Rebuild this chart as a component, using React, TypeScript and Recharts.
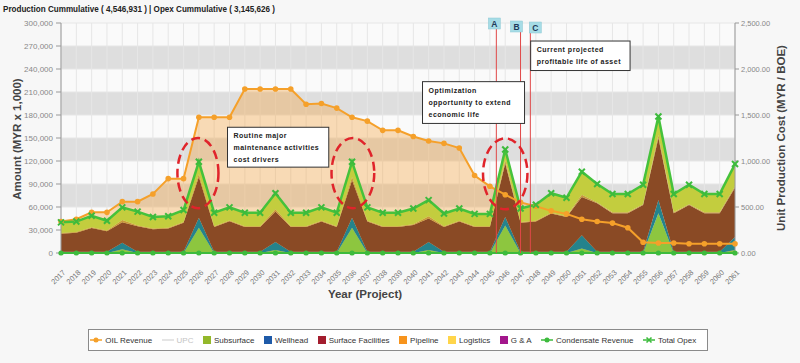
import React from 'react';
import {
  ComposedChart,
  Area,
  Line,
  XAxis,
  YAxis,
  CartesianGrid,
  ReferenceLine,
  ReferenceArea,
} from 'recharts';

const years = [
  2017, 2018, 2019, 2020, 2021, 2022, 2023, 2024, 2025, 2026,
  2027, 2028, 2029, 2030, 2031, 2032, 2033, 2034, 2035, 2036,
  2037, 2038, 2039, 2040, 2041, 2042, 2043, 2044, 2045, 2046,
  2047, 2048, 2049, 2050, 2051, 2052, 2053, 2054, 2055, 2056,
  2057, 2058, 2059, 2060, 2061,
];

const oilRevenue = [
  41000, 44000, 53000, 53000, 67000,
  67000, 77000, 97000, 97000, 177000,
  177000, 177000, 214000, 214000, 214000,
  214000, 194000, 195000, 189000, 177000,
  172000, 160000, 160000, 152000, 146000,
  143000, 137000, 101000, 87000, 76000,
  66000, 61000, 55000, 51000, 44000,
  41000, 39000, 33000, 14000, 13000,
  13000, 12000, 12000, 12000, 12000,
];

const subsurface = [
  0, 0, 0, 0, 5000,
  0, 0, 0, 0, 33000,
  0, 0, 0, 0, 4000,
  0, 0, 0, 0, 33000,
  0, 0, 0, 0, 4000,
  0, 0, 0, 0, 36000,
  0, 0, 0, 0, 6000,
  0, 0, 0, 0, 52000,
  0, 0, 0, 0, 4000,
];

const wellhead = [
  1500, 1500, 1500, 1500, 8500,
  1500, 1500, 1500, 1500, 13000,
  1500, 1500, 1500, 1500, 10500,
  1500, 1500, 1500, 1500, 13000,
  1500, 1500, 1500, 1500, 10500,
  1500, 1500, 1500, 1500, 11000,
  1500, 1500, 1500, 1500, 17000,
  1500, 1500, 1500, 1500, 17000,
  1500, 1500, 1500, 1500, 17000,
];

const surfaceFacilities = [
  23500, 25000, 31000, 27000, 26500,
  33500, 29500, 30500, 38000, 53000,
  32500, 40000, 32500, 32500, 39500,
  32500, 32500, 39500, 32500, 49000,
  39500, 32500, 32500, 35000, 30500,
  32500, 39500, 32500, 32500, 70000,
  38000, 39500, 50000, 45500, 50000,
  63500, 50500, 50500, 61000, 81000,
  50500, 61000, 50500, 50500, 64000,
];

const pipeline = [
  1000, 1000, 1000, 1000, 3000,
  1000, 1000, 1000, 1000, 4000,
  1000, 1000, 1000, 1000, 3000,
  1000, 1000, 1000, 1000, 4000,
  1000, 1000, 1000, 1000, 3000,
  1000, 1000, 1000, 1000, 4000,
  1000, 1000, 1000, 1000, 3000,
  1000, 1000, 1000, 1000, 4000,
  1000, 1000, 1000, 1000, 2000,
];

const logistics = [
  14000, 13500, 15000, 12500, 16500,
  18000, 15000, 15000, 15500, 16000,
  17500, 17000, 17500, 17500, 21000,
  17500, 17500, 17500, 17500, 20000,
  17500, 17500, 17500, 20500, 21000,
  16500, 16000, 16000, 16000, 14000,
  17500, 21000, 25500, 24000, 30000,
  24000, 24000, 24000, 25500, 24000,
  24000, 25500, 24000, 24000, 29000,
];

const gAndA = [
  0, 0, 0, 0, 0, 0, 0, 0, 0, 0,
  0, 0, 0, 0, 0, 0, 0, 0, 0, 0,
  0, 0, 0, 0, 0, 0, 0, 0, 0, 0,
  0, 0, 0, 0, 0, 0, 0, 0, 0, 0,
  0, 0, 0, 0, 0,
];

const condensateRevenue = [
  0, 0, 0, 0, 0, 0, 0, 0, 0, 0,
  0, 0, 0, 0, 0, 0, 0, 0, 0, 0,
  0, 0, 0, 0, 0, 0, 0, 0, 0, 0,
  0, 0, 0, 0, 0, 0, 0, 0, 0, 0,
  0, 0, 0, 0, 0,
];

const totalOpex = [
  40000, 41000, 48500, 42000, 59500,
  54000, 47000, 48000, 56000, 119000,
  52500, 59500, 52500, 52500, 78000,
  52500, 52500, 59500, 52500, 119000,
  59500, 52500, 52500, 58000, 69000,
  51500, 58000, 51000, 51000, 135000,
  58000, 63000, 78000, 72000, 106000,
  90000, 77000, 77000, 89000, 178000,
  77000, 89000, 77000, 77000, 116000,
];

const leftTicks = [0, 30000, 60000, 90000, 120000, 150000, 180000, 210000, 240000, 270000, 300000];
const rightTicks = [0, 500, 1000, 1500, 2000, 2500];

const chartTitle = 'Production Cummulative ( 4,546,931 ) | Opex Cummulative ( 3,145,626 )';
const leftAxisTitle = 'Amount (MYR x 1,000)';
const rightAxisTitle = 'Unit Production Cost (MYR / BOE)';
const xAxisTitle = 'Year (Project)';

// vertical markers (year position)
const markers = [
  { label: 'A', year: 2045.42 },
  { label: 'B', year: 2047.0 },
  { label: 'C', year: 2047.64 },
];
const markerBoxOffsets = [
  { dx: -8, dy: -5 },
  { dx: -10, dy: -2 },
  { dx: -1, dy: -1 },
];

// dashed ellipses (data coordinates)
const ellipses = [
  { x1: 2024.6, x2: 2027.28, y1: 58500, y2: 150000 },
  { x1: 2034.66, x2: 2037.45, y1: 58500, y2: 150000 },
  { x1: 2044.55, x2: 2047.45, y1: 57000, y2: 149500 },
];

// callout boxes (data coordinates)
const callouts = [
  { x1: 2027.87, x2: 2034.48, y1: 112000, y2: 164000, lines: ['Routine major', 'maintenance activities', 'cost drivers'] },
  { x1: 2040.6, x2: 2047.26, y1: 169000, y2: 223500, lines: ['Optimization', 'opportunity to extend', 'economic life'] },
  { x1: 2047.66, x2: 2054.15, y1: 238000, y2: 276500, lines: ['Current projected', 'profitable life of asset'] },
];

const legendItems = [
  { name: 'OIL Revenue', color: '#F5A02A', icon: 'lineDot' },
  { name: 'UPC', color: '#dcdcdc', icon: 'line', muted: true },
  { name: 'Subsurface', color: '#93B82A', icon: 'square' },
  { name: 'Wellhead', color: '#1E5AA8', icon: 'square' },
  { name: 'Surface Facilities', color: '#A31D2E', icon: 'square' },
  { name: 'Pipeline', color: '#F7941D', icon: 'square' },
  { name: 'Logistics', color: '#FFD54A', icon: 'square' },
  { name: 'G & A', color: '#A3168C', icon: 'square' },
  { name: 'Condensate Revenue', color: '#3DBB3D', icon: 'lineDot' },
  { name: 'Total Opex', color: '#3DBB3D', icon: 'lineX' },
];

const data = years.map((year, i) => ({
  year,
  oil: oilRevenue[i],
  subsurface: subsurface[i],
  wellhead: wellhead[i],
  surface: surfaceFacilities[i],
  pipeline: pipeline[i],
  logistics: logistics[i],
  ga: gAndA[i],
  condensate: condensateRevenue[i],
  total: totalOpex[i],
}));

const FONT = '"Liberation Sans", Arial, sans-serif';

const YearTick = (props: any) => {
  const { x, y, payload } = props;
  return (
    <g transform={`translate(${x + 5},${y + 12}) rotate(-45)`}>
      <text x={0} y={0} textAnchor="end" fontSize={7.5} fill="#777" fontFamily={FONT}>
        {payload.value}
      </text>
    </g>
  );
};

const OilDot = (props: any) => {
  const { cx, cy, index } = props;
  if (cx == null || cy == null) return null;
  return <circle key={`od${index}`} cx={cx} cy={cy} r={2.8} fill="#F5A02A" stroke="none" />;
};

const CondDot = (props: any) => {
  const { cx, cy, index } = props;
  if (cx == null || cy == null) return null;
  return <circle key={`cd${index}`} cx={cx} cy={cy} r={2.6} fill="#3DBB3D" stroke="none" />;
};

const XDot = (props: any) => {
  const { cx, cy, index } = props;
  if (cx == null || cy == null) return null;
  const s = 3;
  return (
    <g key={`xd${index}`}>
      <line x1={cx - s} y1={cy - s} x2={cx + s} y2={cy + s} stroke="#3DBB3D" strokeWidth={2} />
      <line x1={cx - s} y1={cy + s} x2={cx + s} y2={cy - s} stroke="#3DBB3D" strokeWidth={2} />
    </g>
  );
};

const ellipseShape = (p: any) => (
  <ellipse
    cx={p.x + p.width / 2}
    cy={p.y + p.height / 2}
    rx={Math.abs(p.width) / 2}
    ry={Math.abs(p.height) / 2}
    fill="none"
    stroke="#E0242B"
    strokeWidth={2.5}
    strokeDasharray="9 5"
  />
);

const makeCallout = (lines: string[]) => (p: any) => (
  <g>
    <rect x={p.x} y={p.y} width={p.width} height={p.height} fill="#ffffff" stroke="#333" strokeWidth={1} />
    {lines.map((t, i) => (
      <text
        key={i}
        x={p.x + 6}
        y={p.y + 11 + i * 12}
        fontSize={7}
        fontWeight="bold"
        letterSpacing={0.5}
        fill="#222"
        fontFamily={FONT}
      >
        {t}
      </text>
    ))}
  </g>
);

const makeMarkerLabel = (label: string, off: { dx: number; dy: number }) => (p: any) => {
  const vb = p.viewBox || {};
  const bx = vb.x + off.dx;
  const by = vb.y + off.dy;
  return (
    <g>
      <rect x={bx} y={by} width={12} height={11} fill="#A6DCE6" stroke="#8cc8d4" strokeWidth={0.5} />
      <text x={bx + 6} y={by + 8.5} textAnchor="middle" fontSize={8.5} fontWeight="bold" fill="#1f3a5a" fontFamily={FONT}>
        {label}
      </text>
    </g>
  );
};

const LegendIcon = ({ icon, color }: { icon: string; color: string }) => {
  if (icon === 'square') {
    return (
      <svg width={8} height={8} style={{ marginRight: 3 }}>
        <rect x={0} y={0} width={8} height={8} fill={color} />
      </svg>
    );
  }
  return (
    <svg width={12} height={8} style={{ marginRight: 3 }}>
      <line x1={0} y1={4} x2={12} y2={4} stroke={color} strokeWidth={1.5} />
      {icon === 'lineDot' && <circle cx={6} cy={4} r={2.5} fill={color} />}
      {icon === 'lineX' && (
        <g stroke={color} strokeWidth={1.6}>
          <line x1={3.5} y1={1.5} x2={8.5} y2={6.5} />
          <line x1={3.5} y1={6.5} x2={8.5} y2={1.5} />
        </g>
      )}
    </svg>
  );
};

export default function App() {
  return (
    <div
      style={{
        position: 'absolute',
        left: 0,
        top: 0,
        width: 800,
        height: 363,
        background: '#f7f7f7',
        fontFamily: FONT,
        overflow: 'hidden',
      }}
    >
      <div style={{ position: 'absolute', left: 0, top: 0 }}>
        <ComposedChart width={800} height={290} data={data} margin={{ top: 23, right: 0, bottom: 2, left: 0 }}>
          <CartesianGrid
            yAxisId="left"
            stroke="#e6e6e6"
            horizontalFill={['#fafafa', '#dedede']}
            fillOpacity={1}
          />
          <XAxis
            dataKey="year"
            type="number"
            domain={[2017, 2061]}
            ticks={years}
            interval={0}
            height={35}
            axisLine={false}
            tickLine={false}
            tick={<YearTick />}
            allowDecimals={false}
          />
          <YAxis
            yAxisId="left"
            orientation="left"
            width={61}
            domain={[0, 300000]}
            ticks={leftTicks}
            interval={0}
            stroke="#999"
            tickSize={5}
            tickMargin={3}
            tick={{ fontSize: 8, fill: '#888', fontFamily: FONT }}
            tickFormatter={(v: number) => v.toLocaleString('en-US')}
          />
          <YAxis
            yAxisId="right"
            orientation="right"
            width={65}
            domain={[0, 2500]}
            ticks={rightTicks}
            interval={0}
            stroke="#999"
            tickSize={4}
            tickMargin={2}
            tick={{ fontSize: 7.5, fill: '#888', fontFamily: FONT }}
            tickFormatter={(v: number) =>
              v.toLocaleString('en-US', { minimumFractionDigits: 2, maximumFractionDigits: 2 })
            }
          />
          <Area
            yAxisId="left"
            dataKey="oil"
            type="linear"
            stroke="none"
            fill="#F5A645"
            fillOpacity={0.38}
            isAnimationActive={false}
            dot={false}
            activeDot={false}
          />
          <Area yAxisId="left" stackId="opex" dataKey="subsurface" type="linear" stroke="none" fill="#8DC63F" fillOpacity={1} isAnimationActive={false} activeDot={false} />
          <Area yAxisId="left" stackId="opex" dataKey="wellhead" type="linear" stroke="none" fill="#24838C" fillOpacity={1} isAnimationActive={false} activeDot={false} />
          <Area yAxisId="left" stackId="opex" dataKey="surface" type="linear" stroke="none" fill="#8A4A25" fillOpacity={1} isAnimationActive={false} activeDot={false} />
          <Area yAxisId="left" stackId="opex" dataKey="pipeline" type="linear" stroke="none" fill="#C99A3A" fillOpacity={1} isAnimationActive={false} activeDot={false} />
          <Area yAxisId="left" stackId="opex" dataKey="logistics" type="linear" stroke="none" fill="#C3CD3E" fillOpacity={1} isAnimationActive={false} activeDot={false} />
          <Area yAxisId="left" stackId="opex" dataKey="ga" type="linear" stroke="none" fill="#A3168C" fillOpacity={1} isAnimationActive={false} activeDot={false} />
          {/* UPC series (hidden in the legend) bound to the right axis */}
          <Line
            yAxisId="right"
            dataKey="condensate"
            type="linear"
            stroke="none"
            strokeWidth={0}
            dot={false}
            activeDot={false}
            legendType="none"
            isAnimationActive={false}
          />
          <Line
            yAxisId="left"
            dataKey="oil"
            type="linear"
            stroke="#F5A02A"
            strokeWidth={2}
            dot={<OilDot />}
            activeDot={false}
            isAnimationActive={false}
          />
          <Line
            yAxisId="left"
            dataKey="condensate"
            type="linear"
            stroke="#3DBB3D"
            strokeWidth={2}
            dot={<CondDot />}
            activeDot={false}
            isAnimationActive={false}
          />
          <Line
            yAxisId="left"
            dataKey="total"
            type="linear"
            stroke="#45C23B"
            strokeWidth={2.5}
            dot={<XDot />}
            activeDot={false}
            isAnimationActive={false}
          />
          {markers.map((m, i) => (
            <ReferenceLine
              key={m.label}
              yAxisId="left"
              x={m.year}
              stroke="#E04848"
              strokeWidth={1}
              label={makeMarkerLabel(m.label, markerBoxOffsets[i])}
              zIndex={700}
            />
          ))}
          {ellipses.map((e, i) => (
            <ReferenceArea
              key={`el${i}`}
              yAxisId="left"
              x1={e.x1}
              x2={e.x2}
              y1={e.y1}
              y2={e.y2}
              shape={ellipseShape}
              zIndex={700}
            />
          ))}
          {callouts.map((c, i) => (
            <ReferenceArea
              key={`co${i}`}
              yAxisId="left"
              x1={c.x1}
              x2={c.x2}
              y1={c.y1}
              y2={c.y2}
              shape={makeCallout(c.lines)}
              zIndex={800}
            />
          ))}
        </ComposedChart>
      </div>

      <svg
        width={800}
        height={363}
        style={{ position: 'absolute', left: 0, top: 0, pointerEvents: 'none' }}
      >
        <text
          x={3}
          y={12}
          fontSize={8.5}
          fontWeight="bold"
          fill="#222"
          textLength={272}
          lengthAdjust="spacingAndGlyphs"
          fontFamily={FONT}
        >
          {chartTitle}
        </text>
        <text
          transform="translate(21,139) rotate(-90)"
          textAnchor="middle"
          fontSize={11.5}
          fontWeight="bold"
          fill="#444"
          fontFamily={FONT}
        >
          {leftAxisTitle}
        </text>
        <text
          transform="translate(785,138) rotate(-90)"
          textAnchor="middle"
          fontSize={11.5}
          fontWeight="bold"
          fill="#444"
          fontFamily={FONT}
        >
          {rightAxisTitle}
        </text>
        <text x={365} y={298} textAnchor="middle" fontSize={11.5} fontWeight="bold" fill="#444" fontFamily={FONT}>
          {xAxisTitle}
        </text>
      </svg>

      <div
        style={{
          position: 'absolute',
          left: 88,
          top: 329,
          width: 618,
          height: 20,
          border: '1px solid #8a8a8a',
          background: '#ffffff',
          display: 'flex',
          alignItems: 'center',
          justifyContent: 'center',
          fontSize: 8,
          color: '#333',
          fontFamily: FONT,
          whiteSpace: 'nowrap',
        }}
      >
        {legendItems.map((it) => (
          <div
            key={it.name}
            style={{ display: 'flex', alignItems: 'center', marginRight: 9.5, color: it.muted ? '#c4c4c4' : '#333' }}
          >
            <LegendIcon icon={it.icon} color={it.color} />
            <span>{it.name}</span>
          </div>
        ))}
      </div>
    </div>
  );
}
